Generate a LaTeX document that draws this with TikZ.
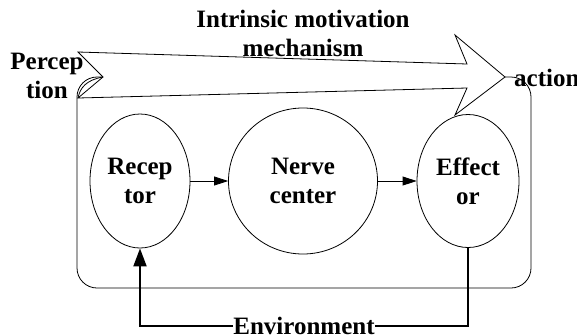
\documentclass[tikz,border=0pt]{standalone}
\usepackage{fontspec}
\setmainfont{Liberation Serif}
\usetikzlibrary{shapes.geometric,arrows.meta}
\begin{document}
\begin{tikzpicture}[x=1pt,y=-1pt,
  lbl/.style={font=\fontsize{25}{29}\selectfont\bfseries, align=center, inner sep=0pt},
  organ/.style={draw, ellipse, line width=0.8pt, inner sep=0pt, lbl},
  flow/.style={line width=0.8pt, -{Triangle[length=14pt,width=9pt]}},
  loop/.style={line width=2pt}
]
\useasboundingbox (0,0) rectangle (577,335);

% organism boundary
\draw[line width=0.8pt, rounded corners=20pt] (77,77) rectangle (531,288);

% broad arrow of the intrinsic motivation mechanism
\draw[line width=0.8pt, fill=white, line join=miter]
  (78,52) -- (467,64) -- (455,35) -- (505,77) -- (455,115) -- (467,88)
  -- (78,98) -- (103,77) -- cycle;
\draw[line width=0.8pt] (103,77) .. controls (86,80) and (80,88) .. (78,98);

% organs
\node[organ, minimum width=100pt, minimum height=134pt] (rec) at (140,181) {Recep\\tor};
\node[organ, minimum width=149pt, minimum height=146pt] (ner) at (303,181) {Nerve\\center};
\node[organ, minimum width=102pt, minimum height=133pt] (eff) at (468,181) {Effect\\or};

\draw[flow] (rec.east) -- (ner.west);
\draw[flow] (ner.east) -- (eff.west);

% labels
\node[lbl] (mot) at (303,33) {Intrinsic motivation\\mechanism};
\node[lbl] (per) at (47,76) {Percep\\tion};
\node[lbl, anchor=west] (act) at (514,78) {action};
\node[lbl] (env) at (304,326) {Environment};

% feedback loop through the environment
\draw[loop] (eff.south) |- (env.east);
\draw[loop, -{Triangle[length=18pt,width=13pt]}] (env.west) -| (rec.south);
\end{tikzpicture}
\end{document}
